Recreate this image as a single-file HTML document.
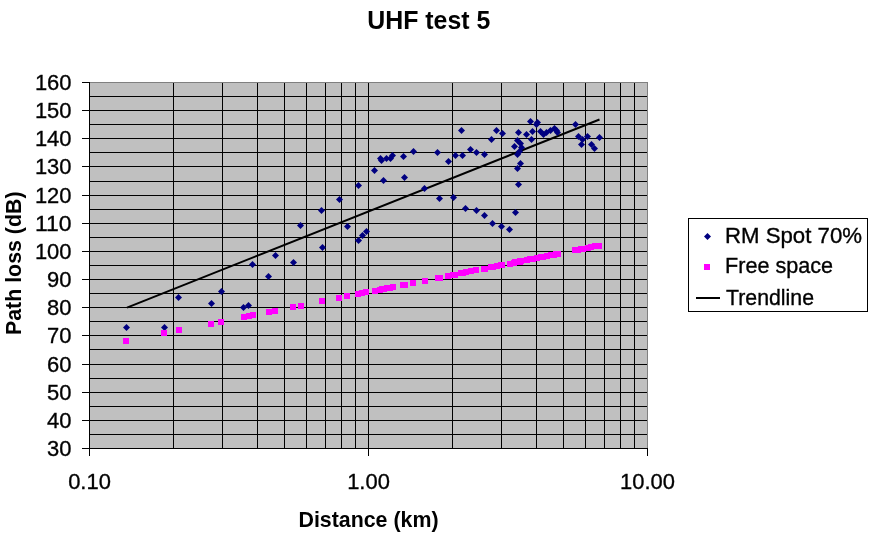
<!DOCTYPE html>
<html><head><meta charset="utf-8"><title>UHF test 5</title>
<style>
html,body{margin:0;padding:0;background:#fff;}
body{width:875px;height:542px;overflow:hidden;font-family:"Liberation Sans",sans-serif;}
svg{display:block;font-family:"Liberation Sans",sans-serif;}
.g{stroke:#000;stroke-width:1;shape-rendering:crispEdges;}
.t{font-size:22px;fill:#000;}
.b{font-weight:bold;}
.n{font-size:22.6px;}
.t:not(.b){stroke:#000;stroke-width:0.35px;}
</style></head><body>
<svg width="875" height="542" viewBox="0 0 875 542">
<rect x="0" y="0" width="875" height="542" fill="#fff"/>

<rect x="89" y="82" width="559" height="367" fill="#c0c0c0"/>
<rect x="89" y="82" width="559" height="1" fill="#808080"/>
<rect x="647" y="82" width="1" height="367" fill="#808080"/>
<rect x="89" y="96" width="558" height="1" fill="#000"/>
<rect x="89" y="110" width="558" height="1" fill="#000"/>
<rect x="89" y="124" width="558" height="1" fill="#000"/>
<rect x="89" y="138" width="558" height="1" fill="#000"/>
<rect x="89" y="152" width="558" height="1" fill="#000"/>
<rect x="89" y="166" width="558" height="1" fill="#000"/>
<rect x="89" y="181" width="558" height="1" fill="#000"/>
<rect x="89" y="195" width="558" height="1" fill="#000"/>
<rect x="89" y="209" width="558" height="1" fill="#000"/>
<rect x="89" y="223" width="558" height="1" fill="#000"/>
<rect x="89" y="237" width="558" height="1" fill="#000"/>
<rect x="89" y="251" width="558" height="1" fill="#000"/>
<rect x="89" y="265" width="558" height="1" fill="#000"/>
<rect x="89" y="279" width="558" height="1" fill="#000"/>
<rect x="89" y="293" width="558" height="1" fill="#000"/>
<rect x="89" y="307" width="558" height="1" fill="#000"/>
<rect x="89" y="321" width="558" height="1" fill="#000"/>
<rect x="89" y="335" width="558" height="1" fill="#000"/>
<rect x="89" y="349" width="558" height="1" fill="#000"/>
<rect x="89" y="364" width="558" height="1" fill="#000"/>
<rect x="89" y="378" width="558" height="1" fill="#000"/>
<rect x="89" y="392" width="558" height="1" fill="#000"/>
<rect x="89" y="406" width="558" height="1" fill="#000"/>
<rect x="89" y="420" width="558" height="1" fill="#000"/>
<rect x="89" y="434" width="558" height="1" fill="#000"/>
<rect x="173" y="83" width="1" height="366" fill="#000"/>
<rect x="222" y="83" width="1" height="366" fill="#000"/>
<rect x="257" y="83" width="1" height="366" fill="#000"/>
<rect x="284" y="83" width="1" height="366" fill="#000"/>
<rect x="306" y="83" width="1" height="366" fill="#000"/>
<rect x="325" y="83" width="1" height="366" fill="#000"/>
<rect x="341" y="83" width="1" height="366" fill="#000"/>
<rect x="355" y="83" width="1" height="366" fill="#000"/>
<rect x="368" y="83" width="1" height="366" fill="#000"/>
<rect x="452" y="83" width="1" height="366" fill="#000"/>
<rect x="501" y="83" width="1" height="366" fill="#000"/>
<rect x="536" y="83" width="1" height="366" fill="#000"/>
<rect x="563" y="83" width="1" height="366" fill="#000"/>
<rect x="585" y="83" width="1" height="366" fill="#000"/>
<rect x="604" y="83" width="1" height="366" fill="#000"/>
<rect x="620" y="83" width="1" height="366" fill="#000"/>
<rect x="634" y="83" width="1" height="366" fill="#000"/>
<rect x="89" y="82" width="1" height="367" fill="#000"/>
<rect x="89" y="448" width="559" height="1" fill="#000"/>
<rect x="82" y="82" width="7" height="1" fill="#000"/>
<rect x="82" y="110" width="7" height="1" fill="#000"/>
<rect x="82" y="138" width="7" height="1" fill="#000"/>
<rect x="82" y="166" width="7" height="1" fill="#000"/>
<rect x="82" y="195" width="7" height="1" fill="#000"/>
<rect x="82" y="223" width="7" height="1" fill="#000"/>
<rect x="82" y="251" width="7" height="1" fill="#000"/>
<rect x="82" y="279" width="7" height="1" fill="#000"/>
<rect x="82" y="307" width="7" height="1" fill="#000"/>
<rect x="82" y="335" width="7" height="1" fill="#000"/>
<rect x="82" y="364" width="7" height="1" fill="#000"/>
<rect x="82" y="392" width="7" height="1" fill="#000"/>
<rect x="82" y="420" width="7" height="1" fill="#000"/>
<rect x="82" y="448" width="7" height="1" fill="#000"/>
<rect x="89" y="448" width="1" height="8" fill="#000"/>
<rect x="368" y="448" width="1" height="8" fill="#000"/>
<rect x="647" y="448" width="1" height="8" fill="#000"/>
<line x1="127" y1="307.6" x2="599.5" y2="119.5" stroke="#000" stroke-width="2"/>
<path d="M126.5 324.0l3.5 3.5l-3.5 3.5l-3.5 -3.5z" fill="#000080"/>
<path d="M164.5 324.0l3.5 3.5l-3.5 3.5l-3.5 -3.5z" fill="#000080"/>
<path d="M178.5 294.0l3.5 3.5l-3.5 3.5l-3.5 -3.5z" fill="#000080"/>
<path d="M211.5 300.0l3.5 3.5l-3.5 3.5l-3.5 -3.5z" fill="#000080"/>
<path d="M221.5 288.0l3.5 3.5l-3.5 3.5l-3.5 -3.5z" fill="#000080"/>
<path d="M243.5 304.0l3.5 3.5l-3.5 3.5l-3.5 -3.5z" fill="#000080"/>
<path d="M248.5 302.0l3.5 3.5l-3.5 3.5l-3.5 -3.5z" fill="#000080"/>
<path d="M252.5 261.0l3.5 3.5l-3.5 3.5l-3.5 -3.5z" fill="#000080"/>
<path d="M268.5 273.0l3.5 3.5l-3.5 3.5l-3.5 -3.5z" fill="#000080"/>
<path d="M275.5 252.0l3.5 3.5l-3.5 3.5l-3.5 -3.5z" fill="#000080"/>
<path d="M293.5 259.0l3.5 3.5l-3.5 3.5l-3.5 -3.5z" fill="#000080"/>
<path d="M300.5 222.0l3.5 3.5l-3.5 3.5l-3.5 -3.5z" fill="#000080"/>
<path d="M321.5 207.0l3.5 3.5l-3.5 3.5l-3.5 -3.5z" fill="#000080"/>
<path d="M322.5 244.0l3.5 3.5l-3.5 3.5l-3.5 -3.5z" fill="#000080"/>
<path d="M339.5 196.0l3.5 3.5l-3.5 3.5l-3.5 -3.5z" fill="#000080"/>
<path d="M347.5 223.0l3.5 3.5l-3.5 3.5l-3.5 -3.5z" fill="#000080"/>
<path d="M358.5 182.0l3.5 3.5l-3.5 3.5l-3.5 -3.5z" fill="#000080"/>
<path d="M358.5 237.0l3.5 3.5l-3.5 3.5l-3.5 -3.5z" fill="#000080"/>
<path d="M362.5 232.0l3.5 3.5l-3.5 3.5l-3.5 -3.5z" fill="#000080"/>
<path d="M366.5 228.0l3.5 3.5l-3.5 3.5l-3.5 -3.5z" fill="#000080"/>
<path d="M374.5 167.0l3.5 3.5l-3.5 3.5l-3.5 -3.5z" fill="#000080"/>
<path d="M383.5 177.0l3.5 3.5l-3.5 3.5l-3.5 -3.5z" fill="#000080"/>
<path d="M380.5 155.0l3.5 3.5l-3.5 3.5l-3.5 -3.5z" fill="#000080"/>
<path d="M381.5 157.0l3.5 3.5l-3.5 3.5l-3.5 -3.5z" fill="#000080"/>
<path d="M386.5 155.0l3.5 3.5l-3.5 3.5l-3.5 -3.5z" fill="#000080"/>
<path d="M390.5 155.0l3.5 3.5l-3.5 3.5l-3.5 -3.5z" fill="#000080"/>
<path d="M392.5 152.0l3.5 3.5l-3.5 3.5l-3.5 -3.5z" fill="#000080"/>
<path d="M403.5 153.0l3.5 3.5l-3.5 3.5l-3.5 -3.5z" fill="#000080"/>
<path d="M404.5 174.0l3.5 3.5l-3.5 3.5l-3.5 -3.5z" fill="#000080"/>
<path d="M413.5 148.0l3.5 3.5l-3.5 3.5l-3.5 -3.5z" fill="#000080"/>
<path d="M424.5 185.0l3.5 3.5l-3.5 3.5l-3.5 -3.5z" fill="#000080"/>
<path d="M437.5 149.0l3.5 3.5l-3.5 3.5l-3.5 -3.5z" fill="#000080"/>
<path d="M439.5 195.0l3.5 3.5l-3.5 3.5l-3.5 -3.5z" fill="#000080"/>
<path d="M448.5 158.0l3.5 3.5l-3.5 3.5l-3.5 -3.5z" fill="#000080"/>
<path d="M453.5 194.0l3.5 3.5l-3.5 3.5l-3.5 -3.5z" fill="#000080"/>
<path d="M455.5 152.0l3.5 3.5l-3.5 3.5l-3.5 -3.5z" fill="#000080"/>
<path d="M461.5 127.0l3.5 3.5l-3.5 3.5l-3.5 -3.5z" fill="#000080"/>
<path d="M462.5 152.0l3.5 3.5l-3.5 3.5l-3.5 -3.5z" fill="#000080"/>
<path d="M465.5 205.0l3.5 3.5l-3.5 3.5l-3.5 -3.5z" fill="#000080"/>
<path d="M470.5 146.0l3.5 3.5l-3.5 3.5l-3.5 -3.5z" fill="#000080"/>
<path d="M476.5 149.0l3.5 3.5l-3.5 3.5l-3.5 -3.5z" fill="#000080"/>
<path d="M476.5 207.0l3.5 3.5l-3.5 3.5l-3.5 -3.5z" fill="#000080"/>
<path d="M484.5 151.0l3.5 3.5l-3.5 3.5l-3.5 -3.5z" fill="#000080"/>
<path d="M484.5 212.0l3.5 3.5l-3.5 3.5l-3.5 -3.5z" fill="#000080"/>
<path d="M491.5 136.0l3.5 3.5l-3.5 3.5l-3.5 -3.5z" fill="#000080"/>
<path d="M492.5 220.0l3.5 3.5l-3.5 3.5l-3.5 -3.5z" fill="#000080"/>
<path d="M496.5 127.0l3.5 3.5l-3.5 3.5l-3.5 -3.5z" fill="#000080"/>
<path d="M501.5 223.0l3.5 3.5l-3.5 3.5l-3.5 -3.5z" fill="#000080"/>
<path d="M502.5 130.0l3.5 3.5l-3.5 3.5l-3.5 -3.5z" fill="#000080"/>
<path d="M509.5 226.0l3.5 3.5l-3.5 3.5l-3.5 -3.5z" fill="#000080"/>
<path d="M514.5 143.0l3.5 3.5l-3.5 3.5l-3.5 -3.5z" fill="#000080"/>
<path d="M515.5 209.0l3.5 3.5l-3.5 3.5l-3.5 -3.5z" fill="#000080"/>
<path d="M518.5 129.0l3.5 3.5l-3.5 3.5l-3.5 -3.5z" fill="#000080"/>
<path d="M517.5 137.0l3.5 3.5l-3.5 3.5l-3.5 -3.5z" fill="#000080"/>
<path d="M520.5 140.0l3.5 3.5l-3.5 3.5l-3.5 -3.5z" fill="#000080"/>
<path d="M521.5 144.0l3.5 3.5l-3.5 3.5l-3.5 -3.5z" fill="#000080"/>
<path d="M519.5 148.0l3.5 3.5l-3.5 3.5l-3.5 -3.5z" fill="#000080"/>
<path d="M517.5 151.0l3.5 3.5l-3.5 3.5l-3.5 -3.5z" fill="#000080"/>
<path d="M520.5 160.0l3.5 3.5l-3.5 3.5l-3.5 -3.5z" fill="#000080"/>
<path d="M517.5 165.0l3.5 3.5l-3.5 3.5l-3.5 -3.5z" fill="#000080"/>
<path d="M518.5 181.0l3.5 3.5l-3.5 3.5l-3.5 -3.5z" fill="#000080"/>
<path d="M526.5 131.0l3.5 3.5l-3.5 3.5l-3.5 -3.5z" fill="#000080"/>
<path d="M530.5 118.0l3.5 3.5l-3.5 3.5l-3.5 -3.5z" fill="#000080"/>
<path d="M531.5 136.0l3.5 3.5l-3.5 3.5l-3.5 -3.5z" fill="#000080"/>
<path d="M532.5 128.0l3.5 3.5l-3.5 3.5l-3.5 -3.5z" fill="#000080"/>
<path d="M537.5 119.0l3.5 3.5l-3.5 3.5l-3.5 -3.5z" fill="#000080"/>
<path d="M536.5 121.0l3.5 3.5l-3.5 3.5l-3.5 -3.5z" fill="#000080"/>
<path d="M540.5 128.0l3.5 3.5l-3.5 3.5l-3.5 -3.5z" fill="#000080"/>
<path d="M543.5 131.0l3.5 3.5l-3.5 3.5l-3.5 -3.5z" fill="#000080"/>
<path d="M546.5 129.0l3.5 3.5l-3.5 3.5l-3.5 -3.5z" fill="#000080"/>
<path d="M550.5 127.0l3.5 3.5l-3.5 3.5l-3.5 -3.5z" fill="#000080"/>
<path d="M554.5 125.0l3.5 3.5l-3.5 3.5l-3.5 -3.5z" fill="#000080"/>
<path d="M556.5 127.0l3.5 3.5l-3.5 3.5l-3.5 -3.5z" fill="#000080"/>
<path d="M557.5 129.0l3.5 3.5l-3.5 3.5l-3.5 -3.5z" fill="#000080"/>
<path d="M575.5 121.0l3.5 3.5l-3.5 3.5l-3.5 -3.5z" fill="#000080"/>
<path d="M578.5 133.0l3.5 3.5l-3.5 3.5l-3.5 -3.5z" fill="#000080"/>
<path d="M581.5 141.0l3.5 3.5l-3.5 3.5l-3.5 -3.5z" fill="#000080"/>
<path d="M582.5 136.0l3.5 3.5l-3.5 3.5l-3.5 -3.5z" fill="#000080"/>
<path d="M587.5 133.0l3.5 3.5l-3.5 3.5l-3.5 -3.5z" fill="#000080"/>
<path d="M591.5 141.0l3.5 3.5l-3.5 3.5l-3.5 -3.5z" fill="#000080"/>
<path d="M594.5 145.0l3.5 3.5l-3.5 3.5l-3.5 -3.5z" fill="#000080"/>
<path d="M599.5 134.0l3.5 3.5l-3.5 3.5l-3.5 -3.5z" fill="#000080"/>
<rect x="123" y="338" width="6" height="6" fill="#ff00ff"/>
<rect x="161" y="330" width="6" height="6" fill="#ff00ff"/>
<rect x="176" y="327" width="6" height="6" fill="#ff00ff"/>
<rect x="208" y="321" width="6" height="6" fill="#ff00ff"/>
<rect x="218" y="319" width="6" height="6" fill="#ff00ff"/>
<rect x="241" y="314" width="6" height="6" fill="#ff00ff"/>
<rect x="246" y="313" width="6" height="6" fill="#ff00ff"/>
<rect x="250" y="312" width="6" height="6" fill="#ff00ff"/>
<rect x="266" y="309" width="6" height="6" fill="#ff00ff"/>
<rect x="272" y="308" width="6" height="6" fill="#ff00ff"/>
<rect x="290" y="304" width="6" height="6" fill="#ff00ff"/>
<rect x="298" y="303" width="6" height="6" fill="#ff00ff"/>
<rect x="319" y="298" width="6" height="6" fill="#ff00ff"/>
<rect x="319" y="298" width="6" height="6" fill="#ff00ff"/>
<rect x="336" y="295" width="6" height="6" fill="#ff00ff"/>
<rect x="344" y="293" width="6" height="6" fill="#ff00ff"/>
<rect x="355" y="291" width="6" height="6" fill="#ff00ff"/>
<rect x="355" y="291" width="6" height="6" fill="#ff00ff"/>
<rect x="359" y="290" width="6" height="6" fill="#ff00ff"/>
<rect x="363" y="289" width="6" height="6" fill="#ff00ff"/>
<rect x="372" y="288" width="6" height="6" fill="#ff00ff"/>
<rect x="381" y="286" width="6" height="6" fill="#ff00ff"/>
<rect x="377" y="287" width="6" height="6" fill="#ff00ff"/>
<rect x="379" y="286" width="6" height="6" fill="#ff00ff"/>
<rect x="384" y="285" width="6" height="6" fill="#ff00ff"/>
<rect x="387" y="285" width="6" height="6" fill="#ff00ff"/>
<rect x="390" y="284" width="6" height="6" fill="#ff00ff"/>
<rect x="400" y="282" width="6" height="6" fill="#ff00ff"/>
<rect x="402" y="282" width="6" height="6" fill="#ff00ff"/>
<rect x="410" y="280" width="6" height="6" fill="#ff00ff"/>
<rect x="422" y="278" width="6" height="6" fill="#ff00ff"/>
<rect x="435" y="275" width="6" height="6" fill="#ff00ff"/>
<rect x="437" y="275" width="6" height="6" fill="#ff00ff"/>
<rect x="445" y="273" width="6" height="6" fill="#ff00ff"/>
<rect x="450" y="272" width="6" height="6" fill="#ff00ff"/>
<rect x="452" y="272" width="6" height="6" fill="#ff00ff"/>
<rect x="458" y="270" width="6" height="6" fill="#ff00ff"/>
<rect x="460" y="270" width="6" height="6" fill="#ff00ff"/>
<rect x="463" y="269" width="6" height="6" fill="#ff00ff"/>
<rect x="468" y="268" width="6" height="6" fill="#ff00ff"/>
<rect x="473" y="267" width="6" height="6" fill="#ff00ff"/>
<rect x="473" y="267" width="6" height="6" fill="#ff00ff"/>
<rect x="482" y="266" width="6" height="6" fill="#ff00ff"/>
<rect x="481" y="266" width="6" height="6" fill="#ff00ff"/>
<rect x="488" y="264" width="6" height="6" fill="#ff00ff"/>
<rect x="490" y="264" width="6" height="6" fill="#ff00ff"/>
<rect x="494" y="263" width="6" height="6" fill="#ff00ff"/>
<rect x="498" y="262" width="6" height="6" fill="#ff00ff"/>
<rect x="499" y="262" width="6" height="6" fill="#ff00ff"/>
<rect x="507" y="261" width="6" height="6" fill="#ff00ff"/>
<rect x="511" y="260" width="6" height="6" fill="#ff00ff"/>
<rect x="512" y="259" width="6" height="6" fill="#ff00ff"/>
<rect x="516" y="259" width="6" height="6" fill="#ff00ff"/>
<rect x="515" y="259" width="6" height="6" fill="#ff00ff"/>
<rect x="517" y="258" width="6" height="6" fill="#ff00ff"/>
<rect x="518" y="258" width="6" height="6" fill="#ff00ff"/>
<rect x="517" y="259" width="6" height="6" fill="#ff00ff"/>
<rect x="515" y="259" width="6" height="6" fill="#ff00ff"/>
<rect x="517" y="258" width="6" height="6" fill="#ff00ff"/>
<rect x="515" y="259" width="6" height="6" fill="#ff00ff"/>
<rect x="516" y="259" width="6" height="6" fill="#ff00ff"/>
<rect x="524" y="257" width="6" height="6" fill="#ff00ff"/>
<rect x="527" y="256" width="6" height="6" fill="#ff00ff"/>
<rect x="528" y="256" width="6" height="6" fill="#ff00ff"/>
<rect x="530" y="256" width="6" height="6" fill="#ff00ff"/>
<rect x="534" y="255" width="6" height="6" fill="#ff00ff"/>
<rect x="534" y="255" width="6" height="6" fill="#ff00ff"/>
<rect x="538" y="254" width="6" height="6" fill="#ff00ff"/>
<rect x="540" y="254" width="6" height="6" fill="#ff00ff"/>
<rect x="544" y="253" width="6" height="6" fill="#ff00ff"/>
<rect x="548" y="252" width="6" height="6" fill="#ff00ff"/>
<rect x="551" y="252" width="6" height="6" fill="#ff00ff"/>
<rect x="553" y="251" width="6" height="6" fill="#ff00ff"/>
<rect x="555" y="251" width="6" height="6" fill="#ff00ff"/>
<rect x="572" y="247" width="6" height="6" fill="#ff00ff"/>
<rect x="575" y="247" width="6" height="6" fill="#ff00ff"/>
<rect x="578" y="246" width="6" height="6" fill="#ff00ff"/>
<rect x="580" y="246" width="6" height="6" fill="#ff00ff"/>
<rect x="585" y="245" width="6" height="6" fill="#ff00ff"/>
<rect x="588" y="244" width="6" height="6" fill="#ff00ff"/>
<rect x="592" y="243" width="6" height="6" fill="#ff00ff"/>
<rect x="596" y="243" width="6" height="6" fill="#ff00ff"/>
<rect x="688.5" y="218.5" width="179" height="93" fill="#fff" stroke="#000" stroke-width="1" shape-rendering="crispEdges"/>
<path d="M707.5 233l3.5 3.5l-3.5 3.5l-3.5 -3.5z" fill="#000080"/>
<rect x="704" y="264" width="6" height="6" fill="#ff00ff"/>
<rect x="696" y="297" width="24" height="2" fill="#000"/>
<g opacity="0.999">
<text class="t n" x="71.5" y="90" text-anchor="end" textLength="36.6" lengthAdjust="spacingAndGlyphs">160</text>
<text class="t n" x="71.5" y="118" text-anchor="end" textLength="36.6" lengthAdjust="spacingAndGlyphs">150</text>
<text class="t n" x="71.5" y="146" text-anchor="end" textLength="36.6" lengthAdjust="spacingAndGlyphs">140</text>
<text class="t n" x="71.5" y="174" text-anchor="end" textLength="36.6" lengthAdjust="spacingAndGlyphs">130</text>
<text class="t n" x="71.5" y="203" text-anchor="end" textLength="36.6" lengthAdjust="spacingAndGlyphs">120</text>
<text class="t n" x="71.5" y="231" text-anchor="end" textLength="36.6" lengthAdjust="spacingAndGlyphs">110</text>
<text class="t n" x="71.5" y="259" text-anchor="end" textLength="36.6" lengthAdjust="spacingAndGlyphs">100</text>
<text class="t n" x="71.5" y="287" text-anchor="end" textLength="24.4" lengthAdjust="spacingAndGlyphs">90</text>
<text class="t n" x="71.5" y="315" text-anchor="end" textLength="24.4" lengthAdjust="spacingAndGlyphs">80</text>
<text class="t n" x="71.5" y="343" text-anchor="end" textLength="24.4" lengthAdjust="spacingAndGlyphs">70</text>
<text class="t n" x="71.5" y="372" text-anchor="end" textLength="24.4" lengthAdjust="spacingAndGlyphs">60</text>
<text class="t n" x="71.5" y="400" text-anchor="end" textLength="24.4" lengthAdjust="spacingAndGlyphs">50</text>
<text class="t n" x="71.5" y="428" text-anchor="end" textLength="24.4" lengthAdjust="spacingAndGlyphs">40</text>
<text class="t n" x="71.5" y="456" text-anchor="end" textLength="24.4" lengthAdjust="spacingAndGlyphs">30</text>
<text class="t n" x="89.5" y="489" text-anchor="middle" textLength="42.7" lengthAdjust="spacingAndGlyphs">0.10</text>
<text class="t n" x="368.5" y="489" text-anchor="middle" textLength="42.7" lengthAdjust="spacingAndGlyphs">1.00</text>
<text class="t n" x="647.5" y="489" text-anchor="middle" textLength="54.9" lengthAdjust="spacingAndGlyphs">10.00</text>
<text class="b" x="367.3" y="28.8" font-size="25" textLength="123" lengthAdjust="spacingAndGlyphs">UHF test 5</text>
<text class="t b" x="298.5" y="526.9" textLength="140" lengthAdjust="spacingAndGlyphs">Distance (km)</text>
<text class="t b" transform="translate(21,335) rotate(-90)" textLength="143.5" lengthAdjust="spacingAndGlyphs">Path loss (dB)</text>
<text class="t" x="725" y="242.8" textLength="137" lengthAdjust="spacingAndGlyphs">RM Spot 70%</text>
<text class="t" x="725" y="273.1" textLength="108" lengthAdjust="spacingAndGlyphs">Free space</text>
<text class="t" x="726" y="304.7" textLength="88" lengthAdjust="spacingAndGlyphs">Trendline</text>
</g>
</svg></body></html>
